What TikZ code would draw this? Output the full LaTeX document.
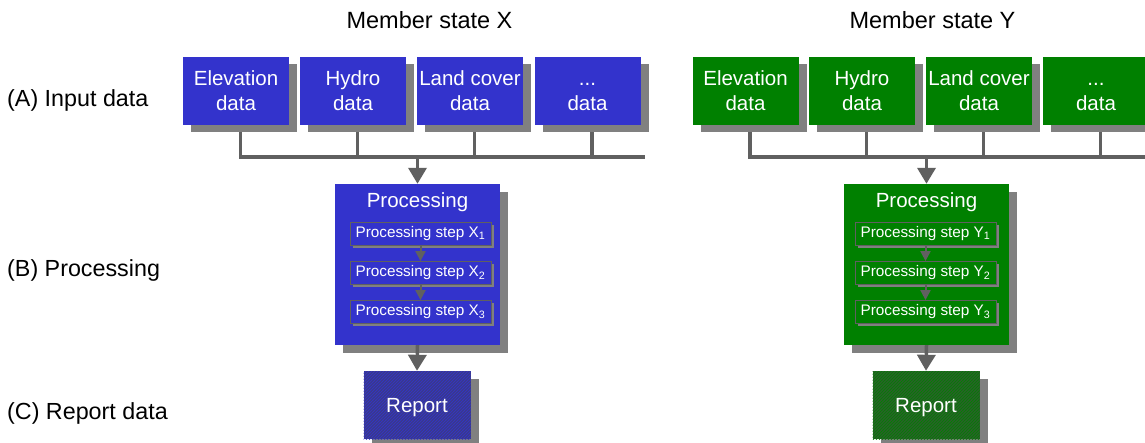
\documentclass[tikz,border=0pt]{standalone}
\usepackage{fontspec}
\setmainfont{Liberation Sans}
\usetikzlibrary{arrows.meta,shadows,patterns}
\definecolor{bl}{HTML}{3333CC}
\definecolor{gr}{HTML}{008000}
\definecolor{sh}{HTML}{808080}
\definecolor{ln}{HTML}{606060}
\definecolor{rptbl}{HTML}{3A3A8C}
\definecolor{rptgr}{HTML}{2A602A}
\tikzset{
 shad/.style={drop shadow={shadow xshift=#1,shadow yshift=-#1,fill=sh,opacity=1}},
 inbox/.style={minimum width=106pt, minimum height=68pt, inner sep=0pt, text=white, align=center,
   font=\fontsize{20.5}{25}\selectfont, fill=#1,
   drop shadow={shadow xshift=8pt,shadow yshift=-7pt,fill=sh,opacity=1}},
 procbox/.style={minimum width=165pt, minimum height=161pt, inner sep=0pt, fill=#1, shad=8pt},
 proctitle/.style={anchor=base, inner sep=0pt, text=white, font=\fontsize{20.5}{24}\selectfont},
 stepbox/.style={minimum width=141pt, minimum height=23pt, inner sep=0pt, draw=ln, line width=0.8pt,
   fill=#1, text=white, font=\fontsize{15.3}{18}\selectfont, shad=3pt},
 rptbox/.style={minimum width=107pt, minimum height=68pt, inner sep=0pt, text=white,
   text height=14pt, text depth=0pt,
   font=\fontsize{20.5}{24}\selectfont, shad=8pt},
 conn/.style={draw=ln, line width=3.5pt},
 bigarrow/.style={conn, -{Triangle[width=18pt,length=16pt]}},
 smallarrow/.style={draw=ln, line width=2pt, -{Triangle[width=10pt,length=10pt]}},
 lbl/.style={font=\fontsize{23.3}{28}\selectfont, anchor=base west, inner sep=0pt},
 head/.style={font=\fontsize{23.5}{27}\selectfont, anchor=base, inner sep=0pt},
}
\begin{document}
\begin{tikzpicture}[x=1pt,y=-1pt]
\useasboundingbox (0,0) rectangle (1145,443);
\clip (0,0) rectangle (1145,443);
\fill[white] (0,0) rectangle (1145,443);

% headings and row labels
\node[head] (hx) at (429.5,29) {Member state X};
\node[head] (hy) at (932.5,29) {Member state Y};
\node[lbl] (la) at (7,107) {(A) Input data};
\node[lbl] (lb) at (7,277) {(B) Processing};
\node[lbl] (lc) at (7,419) {(C) Report data};

% ---------------- Member state X ----------------
\node[inbox=bl] (xb1) at (236,91) {Elevation\\data};
\node[inbox=bl] (xb2) at (353,91) {Hydro\\data};
\node[inbox=bl] (xb3) at (470,91) {Land cover\\data};
\node[inbox=bl] (xb4) at (587.5,91) {\vphantom{El}...\\data};
\coordinate (busX) at (645,157);
\foreach \b in {xb1,xb2,xb3,xb4}
  \draw[conn] ([xshift=4.5pt,yshift=-7pt]\b.south) |- (busX);

\node[procbox=bl] (xp) at (417.5,264.5) {};
\draw[bigarrow] (xp.north |- busX) -- (xp.north);
\node[proctitle] (xpt) at (417.5,208) {Processing};
\node[stepbox=bl] (xs1) at (420.5,233.5) {Processing step X\textsubscript{1}};
\node[stepbox=bl] (xs2) at (420.5,273) {Processing step X\textsubscript{2}};
\node[stepbox=bl] (xs3) at (420.5,312) {Processing step X\textsubscript{3}};
\draw[smallarrow] (xs1.south) -- (xs2.north);
\draw[smallarrow] (xs2.south) -- (xs3.north);

\node[rptbox, fill=rptbl, postaction={pattern=north east lines, pattern color=bl}] (xr) at (417,405) {Report};
\draw[bigarrow] (xp.south) -- (xr.north);

% ---------------- Member state Y ----------------
\node[inbox=gr] (yb1) at (745.5,91) {Elevation\\data};
\node[inbox=gr] (yb2) at (862,91) {Hydro\\data};
\node[inbox=gr] (yb3) at (979,91) {Land cover\\data};
\node[inbox=gr] (yb4) at (1096,91) {\vphantom{El}...\\data};
\coordinate (busY) at (1150,157);
\foreach \b in {yb1,yb2,yb3,yb4}
  \draw[conn] ([xshift=4.5pt,yshift=-7pt]\b.south) |- (busY);

\node[procbox=gr] (yp) at (926.5,264.5) {};
\draw[bigarrow] (yp.north |- busY) -- (yp.north);
\node[proctitle] (ypt) at (926.5,208) {Processing};
\node[stepbox=gr] (ys1) at (925.5,233.5) {Processing step Y\textsubscript{1}};
\node[stepbox=gr] (ys2) at (925.5,273) {Processing step Y\textsubscript{2}};
\node[stepbox=gr] (ys3) at (925.5,312) {Processing step Y\textsubscript{3}};
\draw[smallarrow] (ys1.south) -- (ys2.north);
\draw[smallarrow] (ys2.south) -- (ys3.north);

\node[rptbox, fill=rptgr, postaction={pattern=north east lines, pattern color=gr}] (yr) at (926,405) {Report};
\draw[bigarrow] (yp.south) -- (yr.north);
\end{tikzpicture}
\end{document}
